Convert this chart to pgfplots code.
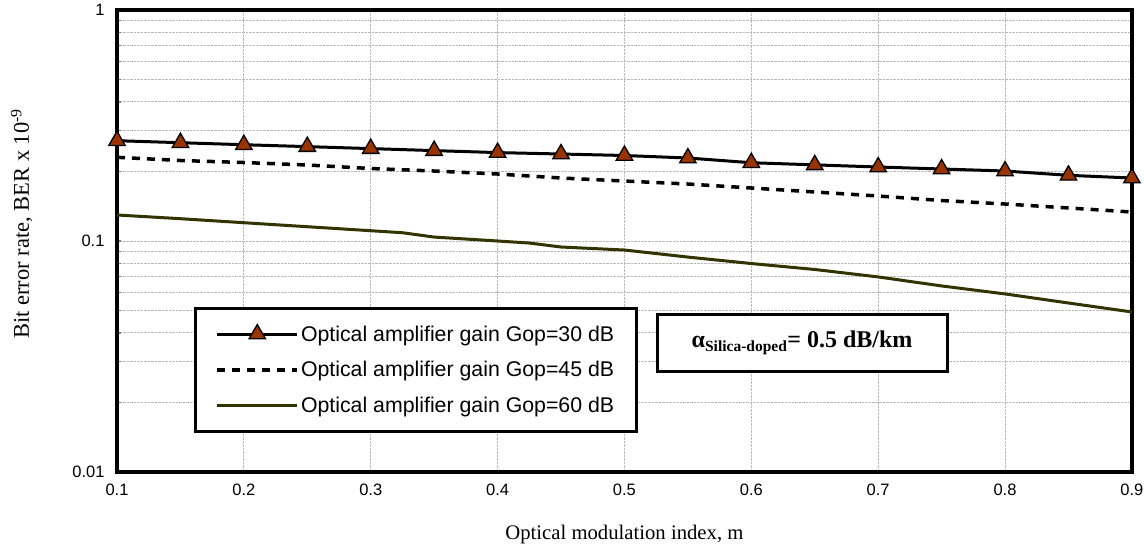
\documentclass[border=0pt]{standalone}
\usepackage{pgfplots}
\pgfplotsset{compat=1.18}
\usepackage{fontspec}
\setmainfont{Liberation Serif}
\newfontfamily\arial{Liberation Sans}
\definecolor{tri}{RGB}{153,51,0}
\definecolor{olivel}{RGB}{51,51,0}
\begin{document}
\begin{tikzpicture}
\path[use as bounding box] (0,0) rectangle (1144pt,549pt);
\begin{axis}[
  at={(117pt,77pt)}, anchor=south west,
  width=1015pt, height=462pt, scale only axis,
  ymode=log, xmin=0.1, xmax=0.9, ymin=0.01, ymax=1,
  xtick={0.1,0.2,0.3,0.4,0.5,0.6,0.7,0.8,0.9},
  xticklabels={0.1,0.2,0.3,0.4,0.5,0.6,0.7,0.8,0.9},
  ytick={0.01,0.1,1}, yticklabels={0.01,0.1,1},
  /pgf/number format/assume math mode=true,
  tick label style={font=\arial\fontsize{16.5}{19}\selectfont},
  yticklabel style={xshift=-9pt},
  xticklabel style={yshift=-8pt},
  xtick pos=bottom, ytick pos=left, tick align=inside,
  major tick length=0pt, minor tick length=4pt,
  minor tick style={line width=1.2pt},
  axis line style={line width=4.5pt, line cap=rect},
  grid=both,
  major grid style={densely dotted, gray!55, line width=0.9pt},
  minor grid style={densely dotted, gray!55, line width=0.9pt},
  xlabel={Optical modulation index, m},
  xlabel style={font=\fontsize{20.7}{24}\selectfont, at={(axis description cs:0.5,-0.136)}, anchor=center},
  ylabel={Bit error rate, BER x 10\textsuperscript{-9}},
  ylabel style={font=\fontsize{22.5}{26}\selectfont, at={(axis description cs:-0.094,0.537)}, anchor=center},
  clip=false,
  legend cell align=left,
  legend style={at={(axis description cs:0.0759,0.357)}, anchor=north west,
    draw=black, line width=3pt, font=\arial\fontsize{21.3}{25}\selectfont,
    inner xsep=20pt, inner ysep=15pt, row sep=15pt,
    /tikz/every even column/.append style={column sep=6pt}},
  legend image code/.code={\draw[mark repeat=2,mark phase=2,#1] plot coordinates {(0pt,0pt) (40pt,0pt) (80pt,0pt)};},
]
\addplot[black, line width=3pt, mark=triangle*, mark size=9.5pt,
  mark options={solid, fill=tri, draw=black, line width=1.3pt}] coordinates {
(0.10,0.2718) (0.15,0.2664) (0.20,0.2611) (0.25,0.2562) (0.30,0.2512)
(0.35,0.2462) (0.40,0.2414) (0.45,0.2380) (0.50,0.2345) (0.55,0.2287)
(0.60,0.2182) (0.65,0.2136) (0.70,0.2091) (0.75,0.2050) (0.80,0.2009)
(0.85,0.1925) (0.90,0.1874)};
\addlegendentry{Optical amplifier gain Gop=30 dB}
\addplot[black, line width=3.5pt, dash pattern=on 8pt off 7pt] coordinates {
(0.10,0.2303) (0.15,0.2231) (0.20,0.2187) (0.25,0.2133) (0.30,0.2060)
(0.35,0.2009) (0.40,0.1950) (0.45,0.1874) (0.50,0.1818) (0.55,0.1765)
(0.60,0.1696) (0.65,0.1630) (0.70,0.1566) (0.75,0.1497) (0.80,0.1446)
(0.85,0.1390) (0.90,0.1335)};
\addlegendentry{Optical amplifier gain Gop=45 dB}
\addplot[olivel, line width=3pt] coordinates {
(0.10,0.1296) (0.15,0.1249) (0.20,0.1200) (0.25,0.1153) (0.30,0.1108)
(0.325,0.1086) (0.35,0.1040) (0.40,0.1000) (0.425,0.0980) (0.45,0.0942)
(0.50,0.0914) (0.55,0.0852) (0.60,0.0799) (0.65,0.0753) (0.70,0.0699)
(0.75,0.0639) (0.80,0.0590) (0.85,0.0539) (0.90,0.0493)};
\addlegendentry{Optical amplifier gain Gop=60 dB}
\node[draw=black, fill=white, line width=3pt, minimum width=290pt, minimum height=57pt,
  font=\bfseries\fontsize{24}{28}\selectfont]
  at (axis description cs:0.675,0.280)
  {α\textsubscript{\fontsize{15.5}{18}\selectfont Silica-doped}= 0.5 dB/km};
\end{axis}
\end{tikzpicture}
\end{document}
